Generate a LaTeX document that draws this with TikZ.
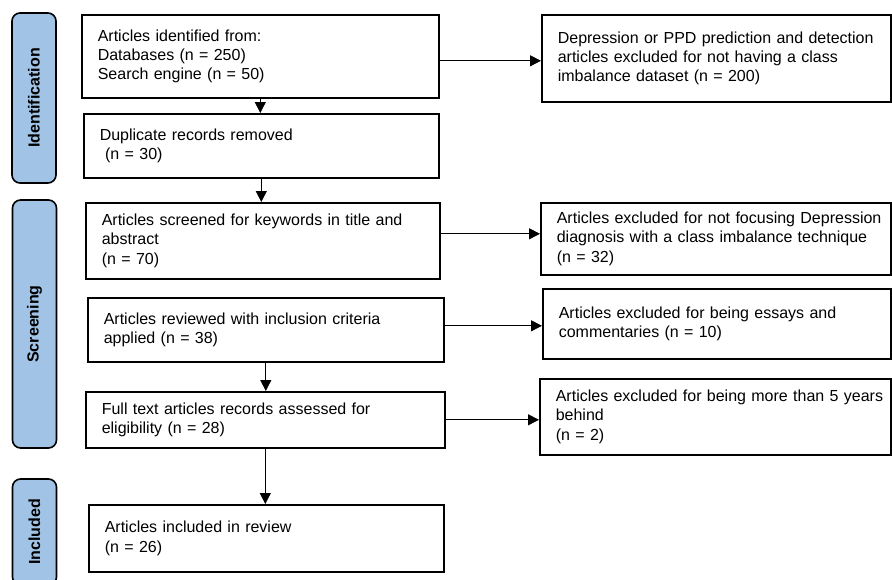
\documentclass[tikz,border=0pt]{standalone}
\usepackage{fontspec}
\setmainfont{Liberation Sans}
\usepackage{tikz}
\usetikzlibrary{arrows.meta,positioning,calc}
\definecolor{phaseblue}{RGB}{160,195,230}

\begin{document}
\begin{tikzpicture}[x=1pt,y=-1pt,
    recbox/.style={draw,line width=1.6pt,anchor=north west,align=left,inner xsep=16pt,inner ysep=0pt,font=\fontsize{16}{19.2}\selectfont},
    phasebar/.style={draw,line width=1.6pt,fill=phaseblue,rounded corners=8pt,rotate=90,minimum height=44pt,inner sep=0pt,font=\fontsize{16}{19}\selectfont\bfseries},
    flow/.style={-{Triangle[length=11pt,width=11pt]},line width=0.8pt}]
    \useasboundingbox (0,0) rectangle (892,579);
    \clip (0,0) rectangle (892,579);

        % Phase bars
        \node[phasebar,minimum width=170pt] (ident) at (34,98) {Identification};
        \node[phasebar,minimum width=248pt] (screen) at (34.5,324) {Screening};
        \node[phasebar,minimum width=106pt] (incl) at (34.5,532) {Included};

        % Main flow
        \node[recbox,text width=325pt,minimum width=357pt,minimum height=83pt] (found) at (81,14) {
            Articles identified from:\\
            Databases (n = 250)\\
            Search engine (n = 50)};
        \node[recbox,text width=323pt,minimum width=355pt,minimum height=64pt] (dupl) at (83,113) {
            Duplicate records removed\\
            ~(n = 30)};
        \node[recbox,text width=322pt,minimum width=354pt,minimum height=76pt] (screened) at (85,202) {
            Articles screened for keywords in title and\\
            abstract\\
            (n = 70)};
        \node[recbox,text width=324pt,minimum width=356pt,minimum height=64pt] (reviewed) at (87,297) {
            Articles reviewed with inclusion criteria\\
            applied (n = 38)};
        \node[recbox,text width=327pt,minimum width=359pt,minimum height=56pt] (fulltext) at (85,391) {
            Full text articles records assessed for\\
            eligibility (n = 28)};
        \node[recbox,text width=323pt,minimum width=355pt,minimum height=67pt] (included) at (88,504) {
            Articles included in review\\
            (n = 26)};

        % Exclusions
        \node[recbox,text width=317pt,minimum width=349pt,minimum height=87pt] (excl1) at (541,14) {
            \mbox{Depression or PPD prediction and detection}\\
            \mbox{articles excluded for not having a class}\\
            \mbox{imbalance dataset (n = 200)}};
        \node[recbox,text width=318pt,minimum width=350pt,minimum height=72pt] (excl2) at (540,202) {
            \mbox{Articles excluded for not focusing Depression}\\
            \mbox{diagnosis with a class imbalance technique}\\
            (n = 32)};
        \node[recbox,text width=316pt,minimum width=348pt,minimum height=70pt] (excl3) at (542,288) {
            \mbox{Articles excluded for being essays and}\\
            \mbox{commentaries (n = 10)}};
        \node[recbox,text width=319pt,minimum width=351pt,minimum height=76pt] (excl4) at (539,378) {
            \mbox{Articles excluded for being more than 5 years}\\
            behind\\
            (n = 2)};

        % Connectors
        \draw[flow] (found.south) -- (found.south |- dupl.north);
        \draw[flow] (dupl.south) -- (dupl.south |- screened.north);
        \draw[flow] (reviewed.south) -- (reviewed.south |- fulltext.north);
        \draw[flow] (fulltext.south) -- (fulltext.south |- included.north);
        \draw[flow] ([yshift=-4.5pt]found.east) -- ([yshift=-4.5pt]found.east -| excl1.west);
        \draw[flow] ([yshift=7pt]screened.east) -- ([yshift=7pt]screened.east -| excl2.west);
        \draw[flow] ([yshift=4pt]reviewed.east) -- ([yshift=4pt]reviewed.east -| excl3.west);
        \draw[flow] (fulltext.east) -- (fulltext.east -| excl4.west);
    \end{tikzpicture}
\end{document}
